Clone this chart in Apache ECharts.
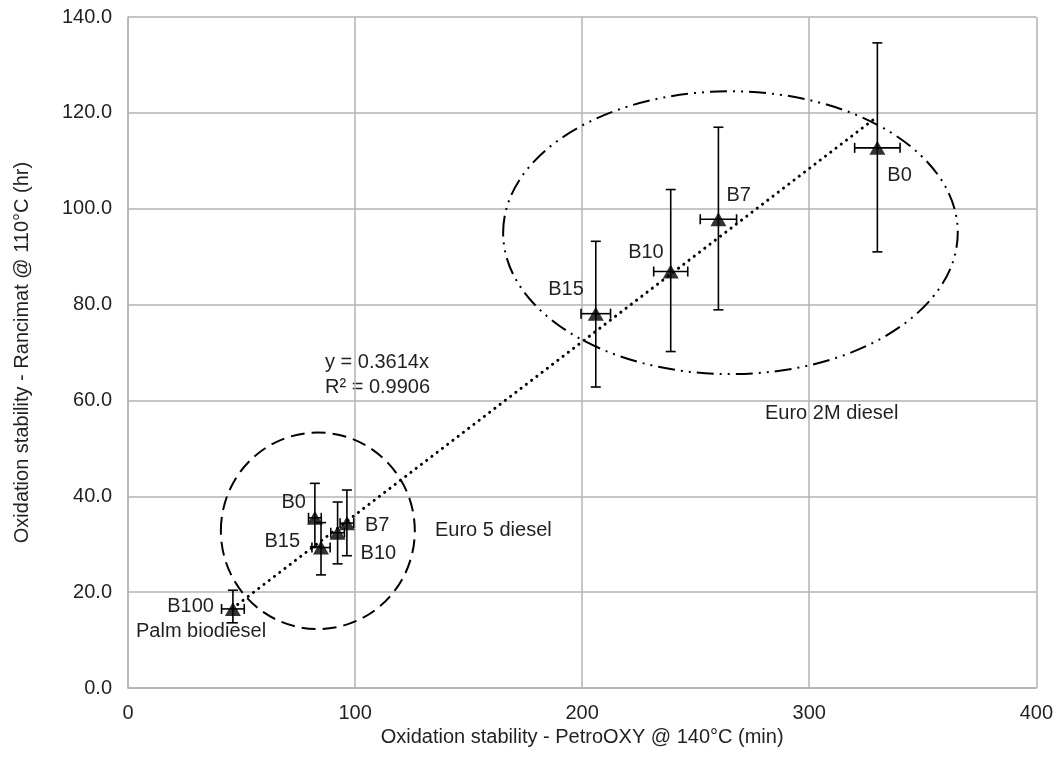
<!DOCTYPE html>
<html>
<head>
<meta charset="utf-8">
<script src="https://cdn.jsdelivr.net/npm/echarts@6/dist/echarts.min.js"></script>
<style>
  html, body { margin: 0; padding: 0; background: #fff; }
  #chart { width: 1056px; height: 773px; }
</style>
</head>
<body>
<div id="chart"></div>
<script>
  // Euro 2M diesel blends
  const euro2mNames = ['B0', 'B7', 'B10', 'B15']
  const euro2mX = [330, 260, 239, 206]
  const euro2mY = [112.7, 97.8, 86.9, 78.1]
  const euro2mXErr = [10, 8, 7.5, 6.5]
  const euro2mYLow = [91.0, 78.9, 70.2, 62.8]
  const euro2mYHigh = [134.6, 117.0, 104.0, 93.2]

  // Euro 5 diesel blends
  const euro5Names = ['B0', 'B7', 'B10', 'B15']
  const euro5X = [82.3, 96.4, 92.3, 85.0]
  const euro5Y = [35.5, 34.4, 32.4, 29.3]
  const euro5XErr = [2.8, 3, 3, 4]
  const euro5YLow = [29.5, 27.6, 25.9, 23.6]
  const euro5YHigh = [42.7, 41.3, 38.8, 34.5]

  // Palm biodiesel
  const palmNames = ['B100']
  const palmX = [46.2]
  const palmY = [16.5]
  const palmXErr = [5]
  const palmYLow = [13.6]
  const palmYHigh = [20.4]

  // linear trendline y = 0.3614x, R² = 0.9906 (end points)
  const trendLine = [[46, 16.6], [328, 118.5]]

  // group outlines: [centerX, centerY, radiusX, radiusY]
  const euro5Outline = [83.6, 32.8, 42.7, 20.5]
  const euro2mOutline = [265.3, 95.0, 100.1, 29.5]

  const xTicks = { min: 0, max: 400, interval: 100 }
  const yTicks = { min: 0, max: 140, interval: 20 }

  const font = 'Liberation Sans, Arial, Helvetica, sans-serif'
  const fontSize = 20
  const textColor = '#231f20'
  const gridColor = '#b3b3b3'

  // label offsets (px) from each marker centre, per group
  const labelPlace = {
    euro2m: [[10, 28, 'left'], [8, -24, 'left'], [-7, -19, 'right'], [-12, -24, 'right']],
    euro5: [[-9, -15, 'right'], [18, 2, 'left'], [23, 21, 'left'], [-21, -6, 'right']],
    palm: [[-19, -2, 'right']]
  }

  function buildPoints(names, xs, ys, xErr, yLow, yHigh) {
    return names.map((n, i) => ({
      name: n,
      value: [xs[i], ys[i], xs[i] - xErr[i], xs[i] + xErr[i], yLow[i], yHigh[i], i]
    }))
  }

  const groups = {
    euro2m: buildPoints(euro2mNames, euro2mX, euro2mY, euro2mXErr, euro2mYLow, euro2mYHigh),
    euro5: buildPoints(euro5Names, euro5X, euro5Y, euro5XErr, euro5YLow, euro5YHigh),
    palm: buildPoints(palmNames, palmX, palmY, palmXErr, palmYLow, palmYHigh)
  }

  function errorBarSeries(key) {
    const place = labelPlace[key]
    return {
      type: 'custom',
      z: 4,
      silent: true,
      data: groups[key],
      renderItem(params, api) {
        const x = api.value(0)
        const y = api.value(1)
        const c = api.coord([x, y])
        const l = api.coord([api.value(2), y])
        const r = api.coord([api.value(3), y])
        const lo = api.coord([x, api.value(4)])
        const hi = api.coord([x, api.value(5)])
        const cap = 5
        const st = { stroke: '#000', lineWidth: 1.6 }
        const p = place[api.value(6)]
        const name = groups[key][params.dataIndex].name
        return {
          type: 'group',
          children: [
            { type: 'line', shape: { x1: c[0], y1: hi[1], x2: c[0], y2: lo[1] }, style: st },
            { type: 'line', shape: { x1: c[0] - cap, y1: hi[1], x2: c[0] + cap, y2: hi[1] }, style: st },
            { type: 'line', shape: { x1: c[0] - cap, y1: lo[1], x2: c[0] + cap, y2: lo[1] }, style: st },
            { type: 'line', shape: { x1: l[0], y1: c[1], x2: r[0], y2: c[1] }, style: st },
            { type: 'line', shape: { x1: l[0], y1: c[1] - cap, x2: l[0], y2: c[1] + cap }, style: st },
            { type: 'line', shape: { x1: r[0], y1: c[1] - cap, x2: r[0], y2: c[1] + cap }, style: st },
            {
              type: 'text',
              x: c[0] + p[0],
              y: c[1] + p[1],
              style: {
                text: name, fill: textColor, font: fontSize + 'px ' + font,
                align: p[2], verticalAlign: 'middle'
              }
            }
          ]
        }
      }
    }
  }

  function markerSeries(key) {
    return {
      type: 'scatter',
      z: 3,
      symbol: 'triangle',
      symbolSize: [16, 14],
      itemStyle: { color: '#000' },
      data: groups[key].map(d => [d.value[0], d.value[1]])
    }
  }

  function outlineSeries(outline, dash) {
    return {
      type: 'custom',
      z: 2,
      silent: true,
      data: [outline],
      renderItem(params, api) {
        const c = api.coord([api.value(0), api.value(1)])
        const s = api.size([api.value(2), api.value(3)])
        return {
          type: 'ellipse',
          shape: { cx: c[0], cy: c[1], rx: s[0], ry: s[1] },
          style: { fill: 'none', stroke: '#000', lineWidth: 2, lineDash: dash }
        }
      }
    }
  }

  function note(text, left, centerY) {
    return {
      type: 'text', left: left, top: centerY - fontSize / 2,
      style: { text: text, fill: textColor, font: fontSize + 'px ' + font }
    }
  }

  const chart = echarts.init(document.getElementById('chart'))
  chart.setOption({
    animation: false,
    backgroundColor: '#fff',
    textStyle: { fontFamily: font, color: textColor },
    grid: { left: 128, right: 18, top: 17, bottom: 85, containLabel: false },
    xAxis: {
      type: 'value',
      min: xTicks.min, max: xTicks.max, interval: xTicks.interval,
      name: 'Oxidation stability - PetroOXY @ 140°C (min)',
      nameLocation: 'middle',
      nameGap: 37,
      nameTextStyle: { fontSize: fontSize, color: textColor, fontFamily: font },
      axisLine: { show: true, lineStyle: { color: gridColor, width: 1.5 } },
      axisTick: { show: false },
      axisLabel: { fontSize: fontSize, color: textColor, margin: 15, fontFamily: font },
      splitLine: { show: true, lineStyle: { color: gridColor, width: 1.5 } }
    },
    yAxis: {
      type: 'value',
      min: yTicks.min, max: yTicks.max, interval: yTicks.interval,
      name: 'Oxidation stability - Rancimat @ 110°C (hr)',
      nameLocation: 'middle',
      nameGap: 96,
      nameTextStyle: { fontSize: fontSize, color: textColor, fontFamily: font },
      axisLine: { show: true, lineStyle: { color: gridColor, width: 1.5 } },
      axisTick: { show: false },
      axisLabel: {
        fontSize: fontSize, color: textColor, margin: 16, fontFamily: font,
        formatter: v => v.toFixed(1)
      },
      splitLine: { show: true, lineStyle: { color: gridColor, width: 1.5 } }
    },
    graphic: [
      note('y = 0.3614x', 325, 362),
      note('R² = 0.9906', 325, 387),
      note('Euro 5 diesel', 435, 530),
      note('Euro 2M diesel', 765, 413),
      note('Palm biodiesel', 136, 631)
    ],
    series: [
      {
        type: 'line',
        z: 2,
        silent: true,
        symbol: 'none',
        data: trendLine,
        lineStyle: { color: '#000', width: 3, type: [0.1, 6.5], cap: 'round' }
      },
      outlineSeries(euro5Outline, [14, 7]),
      outlineSeries(euro2mOutline, [17, 6, 2, 6, 2, 6]),
      errorBarSeries('euro2m'),
      errorBarSeries('euro5'),
      errorBarSeries('palm'),
      markerSeries('euro2m'),
      markerSeries('euro5'),
      markerSeries('palm')
    ]
  })
</script>
</body>
</html>
